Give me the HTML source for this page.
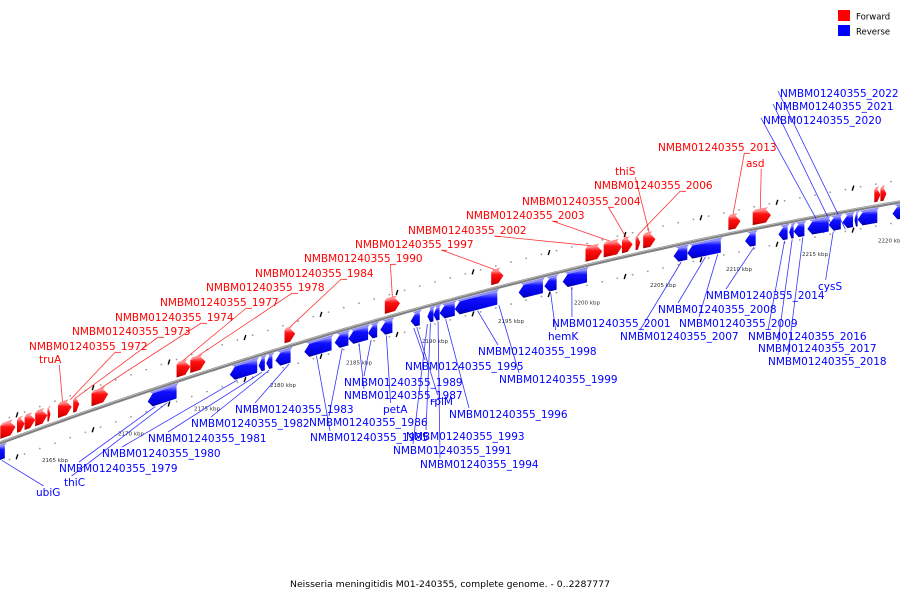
<!DOCTYPE html>
<html><head><meta charset="utf-8"><style>
html,body{margin:0;padding:0;background:#fff}
svg{display:block}
text{font-family:"DejaVu Sans","Liberation Sans",sans-serif}
</style></head><body>
<svg id="chart" width="900" height="600" viewBox="0 0 900 600" xmlns="http://www.w3.org/2000/svg">
<defs>
<linearGradient id="gf" x1="0" y1="0" x2="0" y2="1"><stop offset="0" stop-color="#ff9a9a"/><stop offset="0.3" stop-color="#ff1010"/><stop offset="0.8" stop-color="#e00000"/><stop offset="1" stop-color="#900000"/></linearGradient>
<linearGradient id="gr" x1="0" y1="0" x2="0" y2="1"><stop offset="0" stop-color="#9a9aff"/><stop offset="0.3" stop-color="#1010ff"/><stop offset="0.8" stop-color="#0000e0"/><stop offset="1" stop-color="#000090"/></linearGradient>
</defs>
<g id="legend">
<rect x="838" y="10" width="12" height="11" fill="#f00"/>
<text x="856" y="19.5" font-size="8.5" fill="#000">Forward</text>
<rect x="838" y="25" width="12" height="11" fill="#00f"/>
<text x="856" y="34.5" font-size="8.5" fill="#000">Reverse</text>
</g>
<text x="450" y="587" font-size="8.5" text-anchor="middle" textLength="320" lengthAdjust="spacingAndGlyphs" fill="#000">Neisseria meningitidis M01-240355, complete genome. - 0..2287777</text>
<g id="ticks"></g><g id="track"></g><g id="lines"></g><g id="genes"></g><g id="labels"></g>
</svg>
<script>
const tickKbp = [2165,2170,2175,2180,2185,2190,2195,2200,2205,2210,2215,2220];
const fwdStart = [2161.4,2162.5,2163.0,2163.7,2164.5,2165.2,2166.2,2167.4,2173.0,2173.9,2180.1,2186.7,2193.7,2199.9,2201.1,2202.3,2203.2,2203.7,2209.3,2210.9,2218.9,2219.3];
const fwdEnd   = [2162.4,2163.0,2163.7,2164.5,2164.7,2166.1,2166.6,2168.5,2173.9,2174.9,2180.8,2187.7,2194.5,2201.0,2202.3,2203.0,2203.5,2204.5,2210.1,2212.1,2219.3,2219.7];
const revStart = [2161.0,2171.1,2176.5,2178.4,2178.9,2179.5,2181.4,2183.4,2184.3,2185.6,2186.4,2188.4,2189.5,2189.9,2190.3,2191.3,2195.5,2197.2,2198.4,2205.7,2206.6,2210.4,2212.6,2213.3,2213.6,2214.5,2215.9,2216.8,2217.6,2217.8,2220.1];
const revEnd   = [2161.7,2173.0,2178.3,2178.8,2179.3,2180.5,2183.2,2184.3,2185.6,2186.2,2187.2,2189.0,2189.9,2190.3,2191.3,2194.1,2197.1,2198.0,2200.0,2206.6,2208.8,2211.1,2213.2,2213.6,2214.3,2215.9,2216.7,2217.5,2217.8,2219.1,2220.8];
const labelText = ["truA","NMBM01240355_1972","NMBM01240355_1973","NMBM01240355_1974","NMBM01240355_1977","NMBM01240355_1978","NMBM01240355_1984","NMBM01240355_1990","NMBM01240355_1997","NMBM01240355_2002","NMBM01240355_2003","NMBM01240355_2004","NMBM01240355_2006","thiS","NMBM01240355_2013","asd",
"ubiG","thiC","NMBM01240355_1979","NMBM01240355_1980","NMBM01240355_1981","NMBM01240355_1982","NMBM01240355_1983","NMBM01240355_1985","NMBM01240355_1986","NMBM01240355_1987","NMBM01240355_1989","petA","rplM","NMBM01240355_1995","NMBM01240355_1993","NMBM01240355_1991","NMBM01240355_1994","NMBM01240355_1996","NMBM01240355_1998","NMBM01240355_1999","hemK","NMBM01240355_2001","NMBM01240355_2007","NMBM01240355_2008","NMBM01240355_2009","NMBM01240355_2014","cysS","NMBM01240355_2016","NMBM01240355_2017","NMBM01240355_2018","NMBM01240355_2020","NMBM01240355_2021","NMBM01240355_2022"];
const labelStrand = ["f","f","f","f","f","f","f","f","f","f","f","f","f","f","f","f","r","r","r","r","r","r","r","r","r","r","r","r","r","r","r","r","r","r","r","r","r","r","r","r","r","r","r","r","r","r","r","r","r"];
const labelX = [39,29,72,115,160,206,255,304,355,408,466,522,594,615,658,746,36,64,59,102,148,191,235,310,309,344,344,383,430,405,406,393,420,449,478,499,548,552,620,658,679,706,818,748,758,768,763,775,780];
const labelY = [359,346,331,317,302,287,273,258,244,230,215,201,185,171,147,163,492,482,468,453,438,423,409,437,422,395,382,409,401,366,436,450,464,414,351,379,336,323,336,309,323,295,286,336,348,361,120,106,93];
const labelKbp = [2165.5,2166.0,2166.4,2167.8,2173.3,2174.3,2180.4,2187.2,2194.0,2200.4,2201.6,2202.6,2203.3,2204.1,2209.6,2211.4,2161.5,2172.4,2171.6,2177.0,2178.6,2179.1,2180.4,2182.2,2183.9,2185.0,2185.8,2186.8,2188.8,2188.6,2189.7,2189.5,2190.2,2190.7,2192.8,2194.2,2197.6,2199.0,2206.2,2207.8,2208.6,2211.0,2216.2,2213.0,2213.5,2214.2,2215.6,2216.3,2217.0];
const NS="http://www.w3.org/2000/svg";
function px(k){return 55+(k-2165)*15.2;}
function py(x){return 443-0.3678*x+0.0001111*x*x;}
function el(t,a,p){const e=document.createElementNS(NS,t);for(const k in a)e.setAttribute(k,a[k]);p.appendChild(e);return e;}
const gT=document.getElementById('ticks'),gK=document.getElementById('track'),gL=document.getElementById('lines'),gG=document.getElementById('genes'),gB=document.getElementById('labels');
// backbone
let d="";for(let x=-5;x<=905;x+=5){d+=(x<0?"M":"L")+x+","+py(x).toFixed(2);}
const bb=el('path',{d:d,stroke:'#808080','stroke-width':3.2,fill:'none'},gK);


const bb2=el('path',{d:d,stroke:'#c0c0c0','stroke-width':0.8,fill:'none',transform:'translate(0,-0.8)'},gK);


// minor dots each kbp, rows above and below
for(let k=2160;k<=2221;k++){const x=px(k);if(x<0||x>900)continue;
 [-22,20].forEach(o=>{const c=el('circle',{cx:x,cy:py(x)+o,r:0.9,fill:'#999'},gT);
 
 });}
// major ticks
for(let k=2162.5;k<=2221;k+=5){const x=px(k);
 [-22,20].forEach(o=>{const y=py(x)+o;const t=el('line',{x1:x-0.8,y1:y+2.5,x2:x+0.8,y2:y-2.5,stroke:'#000','stroke-width':1.4},gT);
 
 });}
tickKbp.forEach(k=>{const x=px(k);const t=el('text',{x:x,y:py(x)+39,'font-size':5.5,'text-anchor':'middle',fill:'#333'},gT);t.textContent=k+' kbp';
 
 });
// genes
function gene(s,e,fwd){const x1=px(s),x2=px(e);const w=x2-x1;const ah=Math.min(5,w*0.5);
 const o0=fwd?-17:4,o1=fwd?-4:17;const top=4;
 let pts;
 if(fwd){pts=[[x1,o0],[x2-ah,o0],[x2,(o0+o1)/2],[x2-ah,o1],[x1,o1]];}
 else{pts=[[x1+ah,o0],[x2,o0],[x2,o1],[x1+ah,o1],[x1,(o0+o1)/2]];}
 const g=el('g',{},gG);
 
 
 const p=el('polygon',{points:pts.map(q=>q[0].toFixed(1)+','+(py(q[0])+q[1]).toFixed(1)).join(' '),fill:fwd?'url(#gf)':'url(#gr)'},g);
 
 
 const tp=[[x1+1,o0],[x2-ah+1,o0],[x2-ah-2,o0-0],[x1,o0]];
 const tf=el('polygon',{points:[[x1+2,o0-2],[x2-(fwd?ah:0)+2,o0-2],[x2-(fwd?ah:0),o0],[fwd?x1:x1+ah,o0]].map(q=>q[0].toFixed(1)+','+(py(q[0])+q[1]).toFixed(1)).join(' '),fill:fwd?'#ff8a8a':'#8a8aff'},g);
 
 }
fwdStart.forEach((s,i)=>gene(s,fwdEnd[i],true));
revStart.forEach((s,i)=>gene(s,revEnd[i],false));
// labels
labelText.forEach((t,i)=>{const f=labelStrand[i]==='f';const col=f?'#f00':'#00f';
 const tx=el('text',{x:labelX[i],y:labelY[i]+4,'font-size':10.5,fill:col},gB);tx.textContent=t;
 
 
 const wdt=t.length*6.35;const ax=px(labelKbp[i]);const ay=py(ax)+(f?-18:18);
 let sx,sy;if(f){sx=labelX[i]+wdt*0.8;sy=labelY[i]+6;}else{sx=labelX[i]+Math.min(wdt*0.3,20);sy=labelY[i]-6;}
 if(!f&&ay>sy){sx=labelX[i]-2;sy=labelY[i]-2;}
 const ln=el('line',{x1:sx,y1:sy,x2:ax,y2:ay,stroke:col,'stroke-width':0.8,opacity:0.8},gL);
 
 });
</script>
</body></html>
